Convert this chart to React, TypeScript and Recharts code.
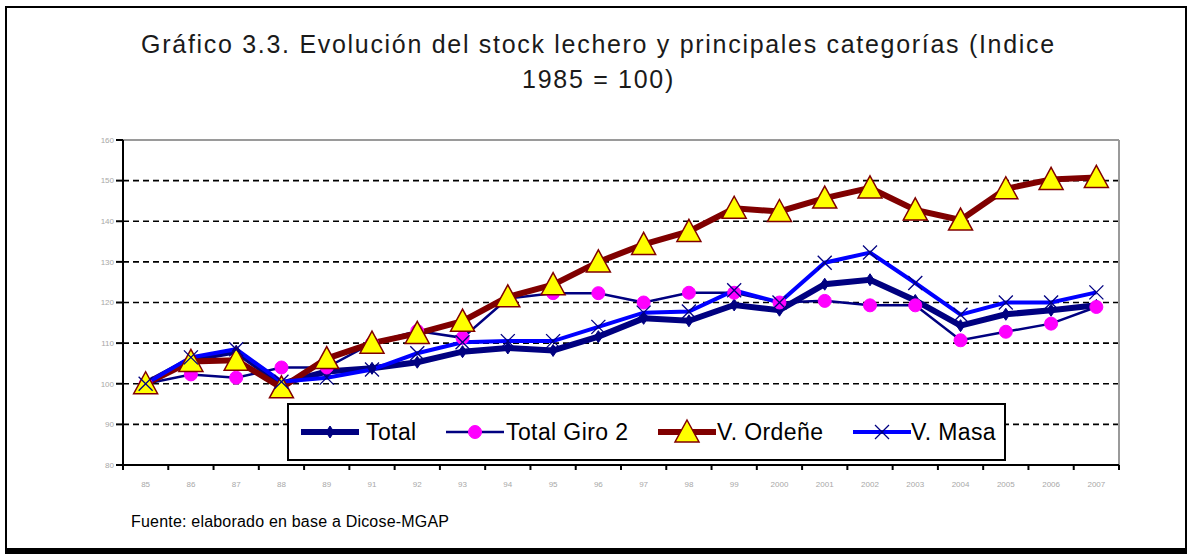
import React from 'react';
import { LineChart, Line, XAxis, YAxis, CartesianGrid } from 'recharts';

const categories = ['85', '86', '87', '88', '89', '91', '92', '93', '94', '95', '96', '97', '98', '99', '2000', '2001', '2002', '2003', '2004', '2005', '2006', '2007'];
const totalValues = [100, 106, 108, 100, 103, 103.8, 105.3, 107.9, 108.8, 108.2, 111.6, 116.1, 115.5, 119.4, 118.1, 124.5, 125.6, 120.5, 114.3, 117.1, 118.1, 119.3];
const totalGiro2Values = [100, 102.3, 101.5, 104, 104, 110, 113, 111.3, 121, 122.3, 122.3, 120, 122.4, 122.4, 120, 120.4, 119.3, 119.3, 110.7, 112.8, 114.8, 118.9];
const vOrdeneValues = [100, 105.5, 105.8, 99, 106.2, 110, 112.4, 115.4, 121.4, 124.4, 130, 134.3, 137.5, 143.2, 142.4, 145.7, 148.2, 142.8, 140.3, 148, 150.3, 150.8];
const vMasaValues = [100, 106.5, 108.5, 100.5, 101.5, 103.5, 107.5, 110.2, 110.5, 110.5, 114, 117.5, 117.8, 123, 120, 129.8, 132.3, 124.8, 117, 120, 120, 122.5];
const yTicks = [80, 90, 100, 110, 120, 130, 140, 150, 160];
const gridValues = [90, 100, 110, 120, 130, 140, 150];

const data = categories.map((c, i) => ({
  year: c,
  total: totalValues[i],
  giro2: totalGiro2Values[i],
  ordene: vOrdeneValues[i],
  masa: vMasaValues[i],
}));

const NAVY = '#000080';
const MAGENTA = '#FF00FF';
const MAROON = '#800000';
const YELLOW = '#FFFF00';
const BLUE = '#0000FF';
const FONT = '"Liberation Sans", Arial, sans-serif';

const CHART_W = 1191;
const CHART_H = 554;
const M_LEFT = 83;
const Y_AXIS_W = 40;
const M_RIGHT = 72;
const M_TOP = 140;
const M_BOTTOM = 59;
const X_AXIS_H = 30;
const PLOT_W = CHART_W - M_LEFT - Y_AXIS_W - M_RIGHT;
const HALF_BAND = PLOT_W / categories.length / 2;
const TICK_SIZE = 6;
const TICK_MARGIN = 6;

const drawDiamond = (cx: number, cy: number, key?: string) => (
  <polygon key={key} points={`${cx},${cy - 6} ${cx + 4},${cy} ${cx},${cy + 6} ${cx - 4},${cy}`} fill={NAVY} stroke={NAVY} strokeWidth={1} />
);
const drawCircle = (cx: number, cy: number, key?: string) => (
  <circle key={key} cx={cx} cy={cy} r={6.5} fill={MAGENTA} stroke={MAGENTA} strokeWidth={1} />
);
const drawTriangle = (cx: number, cy: number, key?: string) => (
  <polygon key={key} points={`${cx},${cy - 12} ${cx + 12},${cy + 10} ${cx - 12},${cy + 10}`} fill={YELLOW} stroke={MAROON} strokeWidth={1.5} />
);
const drawCross = (cx: number, cy: number, key?: string) => (
  <g key={key}>
    <line x1={cx - 7} y1={cy - 7} x2={cx + 7} y2={cy + 7} stroke={NAVY} strokeWidth={1.3} />
    <line x1={cx - 7} y1={cy + 7} x2={cx + 7} y2={cy - 7} stroke={NAVY} strokeWidth={1.3} />
  </g>
);

const makeDot = (fn: (cx: number, cy: number, key?: string) => React.ReactElement, name: string) => (props: any) => {
  const { cx, cy, index } = props;
  if (cx == null || cy == null) return <g key={`${name}-${index}`} />;
  return fn(cx, cy, `${name}-${index}`);
};

const XTick = (props: any) => {
  const { x, y, payload, index } = props;
  const axisY = y - TICK_SIZE - TICK_MARGIN;
  const isLast = index === categories.length - 1;
  return (
    <g>
      <line x1={x - HALF_BAND} y1={axisY} x2={x - HALF_BAND} y2={axisY + 5} stroke="#000" strokeWidth={2} />
      {isLast && <line x1={x + HALF_BAND} y1={axisY} x2={x + HALF_BAND} y2={axisY + 5} stroke="#000" strokeWidth={2} />}
      <text x={x} y={y} dy={10} textAnchor="middle" fontSize={8} fill="#a8a8a8" fontFamily={FONT}>
        {payload.value}
      </text>
    </g>
  );
};

const legendItems = [
  { label: 'Total', color: NAVY, width: 6, marker: drawDiamond, sampleX: 300, textX: 366 },
  { label: 'Total Giro 2', color: NAVY, width: 2.5, marker: drawCircle, sampleX: 445, textX: 506 },
  { label: 'V. Ordeñe', color: MAROON, width: 6, marker: drawTriangle, sampleX: 657, textX: 717 },
  { label: 'V. Masa', color: BLUE, width: 4, marker: drawCross, sampleX: 852, textX: 911 },
];

const LEGEND_LEFT = 287;
const LEGEND_TOP = 403;

const LegendBox = () => (
  <div
    style={{
      position: 'absolute',
      left: LEGEND_LEFT,
      top: LEGEND_TOP,
      width: 715,
      height: 54,
      border: '2px solid #000',
      background: '#fff',
      boxSizing: 'content-box',
      fontFamily: FONT,
      fontSize: 23,
      letterSpacing: 0.4,
      color: '#000',
    }}
  >
    {legendItems.map((it) => (
      <React.Fragment key={it.label}>
        <svg width={60} height={30} style={{ position: 'absolute', left: it.sampleX - LEGEND_LEFT - 2, top: 12 }}>
          <line x1={1} y1={15} x2={59} y2={15} stroke={it.color} strokeWidth={it.width} />
          {it.marker(30, 15)}
        </svg>
        <span style={{ position: 'absolute', left: it.textX - LEGEND_LEFT - 2, top: 13, lineHeight: '28px', whiteSpace: 'nowrap' }}>{it.label}</span>
      </React.Fragment>
    ))}
  </div>
);

export default function App() {
  return (
    <div style={{ position: 'relative', width: CHART_W, height: CHART_H, background: '#fff', overflow: 'hidden' }}>
      <style>{`html, body { margin: 0; padding: 0; background: #fff; overflow: hidden; }`}</style>
      <svg width={CHART_W} height={CHART_H} style={{ position: 'absolute', left: 0, top: 0 }}>
        <rect x={0} y={0} width={CHART_W} height={CHART_H} fill="#fff" />
        <line x1={6} y1={6} x2={6} y2={551} stroke="#000" strokeWidth={2} />
        <line x1={5} y1={7} x2={1187} y2={7} stroke="#000" strokeWidth={2} />
        <line x1={1186} y1={6} x2={1186} y2={551} stroke="#000" strokeWidth={2} />
        <line x1={5} y1={551} x2={1187} y2={551} stroke="#000" strokeWidth={6} />
      </svg>
      <div
        style={{
          position: 'absolute',
          left: 3,
          top: 27,
          width: CHART_W,
          textAlign: 'center',
          fontFamily: FONT,
          fontSize: 25,
          letterSpacing: 1.7,
          lineHeight: '35px',
          color: '#1a1a1a',
          whiteSpace: 'nowrap',
        }}
      >
        Gráfico 3.3. Evolución del stock lechero y principales categorías (Indice
        <br />
        1985 = 100)
      </div>
      <div style={{ position: 'absolute', left: 0, top: 0 }}>
        <LineChart width={CHART_W} height={CHART_H} data={data} margin={{ top: M_TOP, right: M_RIGHT, bottom: M_BOTTOM, left: M_LEFT }}>
          <CartesianGrid vertical={false} horizontalValues={gridValues} stroke="#000" strokeDasharray="6 4" strokeWidth={1.6} />
          <CartesianGrid
            horizontal={false}
            vertical
            verticalCoordinatesGenerator={({ offset }: any) => [offset.left + offset.width]}
            stroke="#9a9a9a"
            strokeWidth={2}
          />
          <CartesianGrid
            vertical={false}
            horizontal
            horizontalCoordinatesGenerator={({ offset }: any) => [offset.top]}
            stroke="#9a9a9a"
            strokeWidth={2}
          />
          <XAxis
            dataKey="year"
            interval={0}
            height={X_AXIS_H}
            padding={{ left: HALF_BAND, right: HALF_BAND }}
            axisLine={{ stroke: '#000', strokeWidth: 2 }}
            tickLine={false}
            tickSize={TICK_SIZE}
            tickMargin={TICK_MARGIN}
            tick={<XTick />}
          />
          <YAxis
            width={Y_AXIS_W}
            domain={[80, 160]}
            ticks={yTicks}
            interval={0}
            allowDataOverflow
            axisLine={{ stroke: '#000', strokeWidth: 2 }}
            tickLine={{ stroke: '#000', strokeWidth: 2 }}
            tickSize={7}
            tick={{ fontSize: 8, fill: '#a8a8a8', fontFamily: FONT }}
          />
          <Line dataKey="total" name="Total" stroke={NAVY} strokeWidth={6} dot={makeDot(drawDiamond, 'tot')} activeDot={false} isAnimationActive={false} />
          <Line dataKey="giro2" name="Total Giro 2" stroke={NAVY} strokeWidth={2.5} dot={makeDot(drawCircle, 'g2')} activeDot={false} isAnimationActive={false} />
          <Line dataKey="ordene" name="V. Ordeñe" stroke={MAROON} strokeWidth={6} dot={makeDot(drawTriangle, 'ord')} activeDot={false} isAnimationActive={false} />
          <Line dataKey="masa" name="V. Masa" stroke={BLUE} strokeWidth={4} dot={makeDot(drawCross, 'mas')} activeDot={false} isAnimationActive={false} />
        </LineChart>
      </div>
      <LegendBox />
      <div style={{ position: 'absolute', left: 131, top: 513, fontFamily: FONT, fontSize: 16, letterSpacing: 0.2, color: '#000', whiteSpace: 'nowrap' }}>
        Fuente: elaborado en base a Dicose-MGAP
      </div>
    </div>
  );
}
